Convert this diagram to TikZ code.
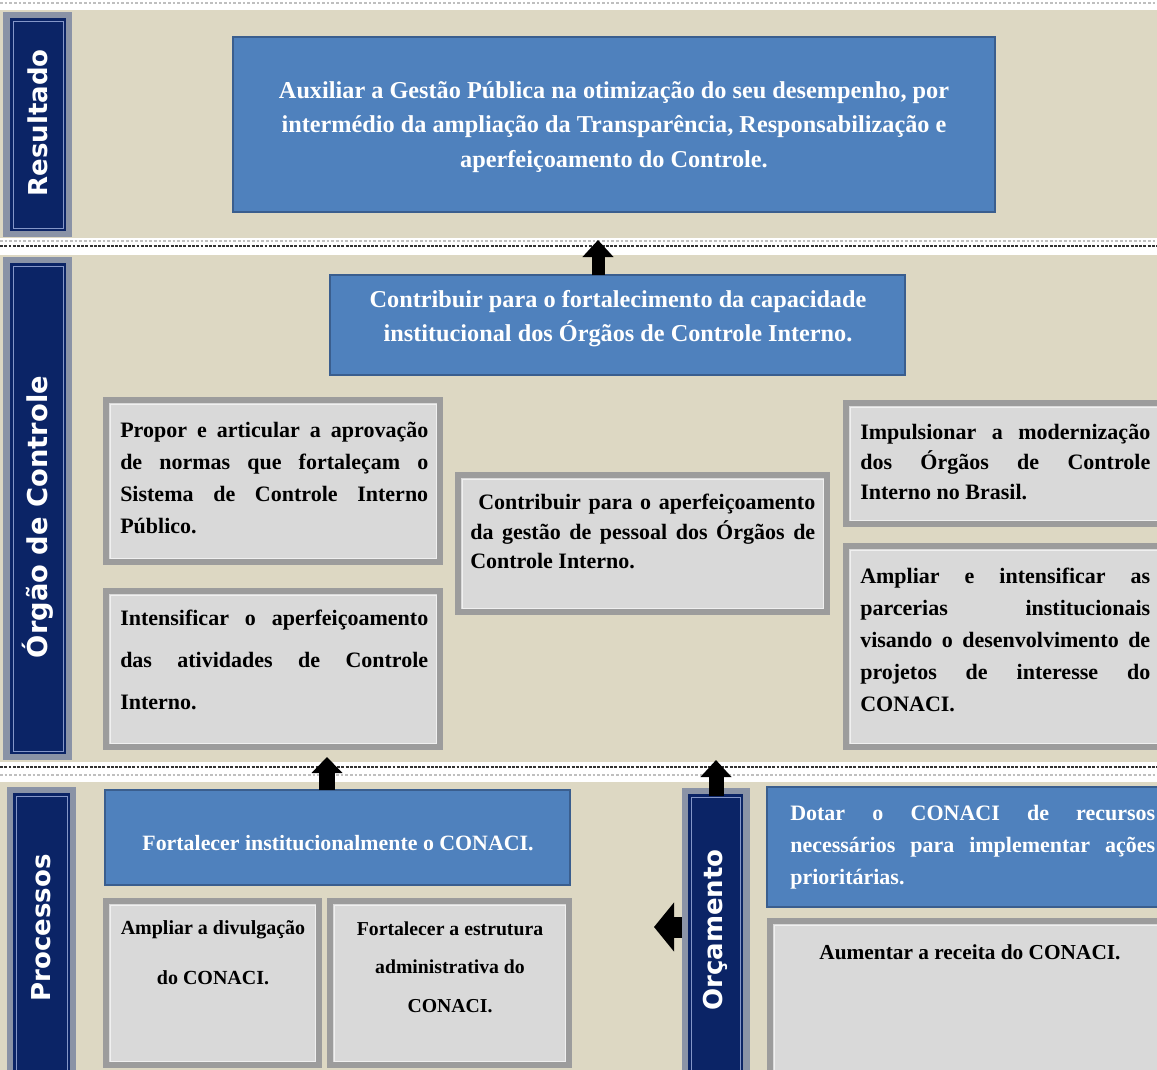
\documentclass[tikz,border=0pt]{standalone}
\usepackage{fontspec}
\setmainfont{Liberation Serif}
\newfontfamily\labfont{DejaVu Sans}
\usetikzlibrary{arrows.meta,fit}
\definecolor{beige}{HTML}{DDD8C3}
\definecolor{navy}{HTML}{0B2466}
\definecolor{labframe}{HTML}{8A93A6}
\definecolor{labline}{HTML}{8496C8}
\definecolor{bluefill}{HTML}{4F81BD}
\definecolor{blueedge}{HTML}{3A5E8E}
\definecolor{grayfill}{HTML}{D9D9D9}
\definecolor{grayedge}{HTML}{9C9C9C}
\definecolor{grayline}{HTML}{F0F0F0}
\newcommand\myfs[2]{\fontsize{#1}{#2}\selectfont}
\newcommand\ginner[1]{\draw[grayinner] ([shift={(4,4)}]#1.north west) rectangle ([shift={(-4,-4)}]#1.south east);}
\newcommand\linner[1]{\draw[labinnerline] ([shift={(3,3)}]#1.north west) rectangle ([shift={(-3,-3)}]#1.south east);}
\begin{document}
\begin{tikzpicture}[x=0.75pt,y=-0.75pt,
  band/.style={fill=beige,draw=none},
  labbox/.style={fill=labframe,draw=none,inner sep=0pt,outer sep=0pt},
  labnavy/.style={fill=navy,draw=none,inner sep=0pt,outer sep=0pt},
  labinnerline/.style={draw=labline,line width=0.6pt},
  labtext/.style={text=white,font=\labfont\bfseries\myfs{19.5}{22},rotate=90,inner sep=0pt},
  bluebox/.style={fill=bluefill,draw=blueedge,line width=1.6pt,inner sep=0pt,outer sep=0pt},
  graybox/.style={fill=grayfill,draw=grayedge,line width=4.2pt,inner sep=0pt,outer sep=0pt},
  grayinner/.style={draw=grayline,line width=0.7pt},
  whitetext/.style={text=white,font=\bfseries\myfs{18.2}{26},align=center,inner sep=0pt},
  bodytext/.style={text=black,font=\bfseries\myfs{16.5}{24},align=justify,inner sep=0pt,anchor=north west},
  ctext/.style={text=black,font=\bfseries\myfs{16}{24},align=center,inner sep=0pt},
  darkdash/.style={draw=black!80,line width=1.3pt,dash pattern=on 2.2pt off 1pt},
  lightdot/.style={draw=black!25,line width=0.8pt,dash pattern=on 2pt off 1.5pt},
  blockarrow/.style n args={3}{draw=black,line width=#1,-{Triangle[width=#2,length=#3]}}
]
\useasboundingbox (0,0) rectangle (1157,1070);
\clip (0,0) rectangle (1157,1070);
\fill[white] (0,0) rectangle (1157,1070);
% bands
\fill[band] (0,10) rectangle (1157,238);
\fill[band] (0,255) rectangle (1157,762);
\fill[band] (0,782) rectangle (1157,1070);
% separators
\draw[lightdot] (0,3) -- (1157,3);
\draw[lightdot] (0,241) -- (1157,241);
\draw[darkdash] (0,246) -- (1157,246);
\draw[darkdash] (0,767) -- (1157,767);
\draw[lightdot] (0,775) -- (1157,775);

% labels
\node[labbox,fit={(3,12)(72,237)}] (resf) {};
\node[labnavy,fit={(10,18)(66,231)}] (resn) {};
\linner{resn}
\node[labtext] (reslab) at (38,123) {Resultado};

\node[labbox,fit={(3,257)(72,760)}] (orgf) {};
\node[labnavy,fit={(10,263)(66,754)}] (orgn) {};
\linner{orgn}
\node[labtext,font=\labfont\bfseries\myfs{20.5}{22}] (orglab) at (38,517) {Órgão de Controle};

\node[labbox,fit={(7,787)(76,1080)}] (procf) {};
\node[labnavy,fit={(13,793)(70,1074)}] (procn) {};
\linner{procn}
\node[labtext] (proclab) at (41,928) {Processos};

\node[labbox,fit={(682,788)(750,1080)}] (orcf) {};
\node[labnavy,fit={(688,794)(743,1074)}] (orcn) {};
\linner{orcn}
\node[labtext] (orclab) at (715,930) {Orçamento};

% blue boxes
\node[bluebox,fit={(233,37)(995,212)}] (res) {};
\node[whitetext] (restxt) at (614,127) {Auxiliar a Gestão Pública na otimização do seu desempenho, por\\intermédio da ampliação da Transparência, Responsabilização e\\aperfeiçoamento do Controle.};

\node[bluebox,fit={(330,275)(905,375)}] (ctrl) {};
\node[whitetext,font=\bfseries\myfs{18.2}{25.5}] (ctrltxt) at (618,319) {Contribuir para o fortalecimento da capacidade\\institucional dos Órgãos de Controle Interno.};

\node[bluebox,fit={(105,790)(570,885)}] (pbl) {};
\node[whitetext,font=\bfseries\myfs{16.4}{24}] (pbltxt) at (338,843) {Fortalecer institucionalmente o CONACI.};

\node[bluebox,fit={(767,787)(1170,907)}] (dot) {};
\node[bodytext,text=white,text width=273.75pt] (dottxt) at (790,805) {Dotar o CONACI de recursos\linebreak necessários para implementar ações\linebreak prioritárias.};

% gray boxes
\node[graybox,fit={(106,400)(440,562)}] (l1) {};
\ginner{l1}
\node[bodytext,text width=231pt] (l1txt) at (120,422) {Propor e articular a aprovação\linebreak de normas que fortaleçam o\linebreak Sistema de Controle Interno\linebreak Público.};

\node[graybox,fit={(106,591)(440,747)}] (l2) {};
\ginner{l2}
\node[bodytext,text width=231pt,font=\bfseries\myfs{16.5}{31.5}] (l2txt) at (120,610) {Intensificar o aperfeiçoamento\linebreak das atividades de Controle\linebreak Interno.};

\node[graybox,fit={(458,475)(827,612)}] (mid) {};
\ginner{mid}
\node[bodytext,text width=258.75pt,font=\bfseries\myfs{16.5}{22}] (midtxt) at (470,494) {\hspace*{6pt}Contribuir para o aperfeiçoamento\linebreak da gestão de pessoal dos Órgãos de\linebreak Controle Interno.};

\node[graybox,fit={(846,403)(1170,524)}] (r1) {};
\ginner{r1}
\node[bodytext,text width=217.5pt,font=\bfseries\myfs{16.5}{22.5}] (r1txt) at (860,424) {Impulsionar a modernização\linebreak dos Órgãos de Controle\linebreak Interno no Brasil.};

\node[graybox,fit={(846,546)(1170,747)}] (r2) {};
\ginner{r2}
\node[bodytext,text width=217.5pt] (r2txt) at (860,568) {Ampliar e intensificar as\linebreak parcerias institucionais\linebreak visando o desenvolvimento de\linebreak projetos de interesse do\linebreak CONACI.};

\node[graybox,fit={(106,901)(319,1065)}] (p1) {};
\ginner{p1}
\node[ctext,font=\bfseries\myfs{15}{37.5}] (p1txt) at (213,953) {Ampliar a divulgação\\do CONACI.};

\node[graybox,fit={(330,901)(569,1065)}] (p2) {};
\ginner{p2}
\node[ctext,font=\bfseries\myfs{14.8}{29}] (p2txt) at (450,967) {Fortalecer a estrutura\\administrativa do\\CONACI.};

\node[graybox,fit={(770,921)(1170,1075)}] (aum) {};
\ginner{aum}
\node[ctext] (aumtxt) at (970,952) {Aumentar a receita do CONACI.};

% arrows
\coordinate (tip1) at (598,240);
\coordinate (tip2) at (327,757);
\coordinate (tip3) at (716,760);
\coordinate (tip4) at (654,927);
\draw[blockarrow={9.75pt}{22.5pt}{12.75pt}] (tip1 |- ctrl.north) -- (tip1);
\draw[blockarrow={12pt}{22.5pt}{12pt}] (tip2 |- pbl.north) -- (tip2);
\draw[blockarrow={11.25pt}{22.5pt}{12.75pt}] (orcf.north) ++(0,8) -- (tip3);
\draw[blockarrow={15.75pt}{36pt}{15pt}] (orcf.west |- tip4) -- (tip4);
\end{tikzpicture}
\end{document}
